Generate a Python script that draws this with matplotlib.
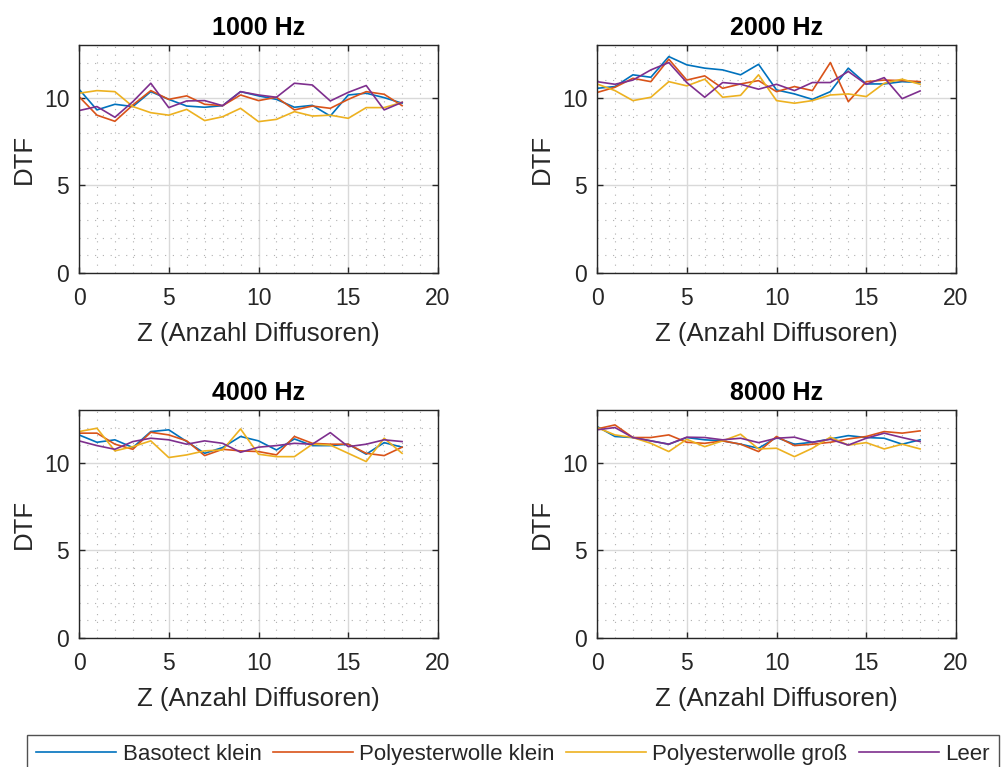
import numpy as np
import matplotlib
matplotlib.use("Agg")
import matplotlib.pyplot as plt
from matplotlib.ticker import MultipleLocator

plt.rcParams.update({
    "font.family": ["Liberation Sans", "DejaVu Sans"],
    "text.color": "#262626",
    "axes.labelcolor": "#262626",
    "xtick.color": "#262626",
    "ytick.color": "#262626",
})

z = np.arange(19)
FREQS = ["1000 Hz", "2000 Hz", "4000 Hz", "8000 Hz"]
SERIES = ["Basotect klein", "Polyesterwolle klein", "Polyesterwolle groß", "Leer"]
COLORS = ["#0072BD", "#D95319", "#EDB120", "#7E2F8E"]

# DTF per number of diffusors, one list per material and frequency band
basotect_1k = [10.48, 9.30, 9.62, 9.49, 10.34, 9.90, 9.52, 9.45, 9.54, 10.34,
               10.10, 9.90, 9.45, 9.56, 8.95, 10.15, 10.25, 10.00, 9.68]
poly_klein_1k = [10.06, 9.00, 8.65, 9.58, 10.40, 9.90, 10.10, 9.62, 9.54, 10.15,
                 9.83, 10.02, 9.30, 9.52, 9.39, 9.90, 10.34, 10.19, 9.54]
poly_gross_1k = [10.25, 10.40, 10.34, 9.49, 9.14, 9.00, 9.33, 8.69, 8.91, 9.39,
                 8.63, 8.76, 9.20, 8.95, 9.00, 8.82, 9.43, 9.43, 9.73]
leer_1k = [9.26, 9.49, 8.88, 9.77, 10.82, 9.43, 9.81, 9.83, 9.54, 10.34,
           10.15, 10.02, 10.82, 10.72, 9.81, 10.30, 10.69, 9.30, 9.73]

basotect_2k = [10.53, 10.63, 11.30, 11.16, 12.34, 11.87, 11.68, 11.58, 11.30, 11.90,
               10.44, 10.21, 9.90, 10.34, 11.68, 10.78, 10.78, 10.91, 10.86]
poly_klein_2k = [10.29, 10.59, 11.10, 10.91, 12.19, 11.00, 11.24, 10.53, 10.78, 10.97,
                 10.34, 10.63, 10.40, 12.00, 9.77, 10.91, 11.00, 10.97, 10.91]
poly_gross_2k = [10.78, 10.40, 9.83, 10.02, 10.91, 10.67, 11.05, 10.02, 10.13, 11.30,
                 9.83, 9.68, 9.83, 10.15, 10.21, 10.06, 10.82, 11.05, 10.76]
leer_2k = [10.91, 10.76, 11.00, 11.58, 12.00, 10.86, 10.02, 10.86, 10.76, 10.48,
           10.76, 10.40, 10.86, 10.86, 11.49, 10.76, 11.14, 9.94, 10.38]

basotect_4k = [11.58, 11.16, 11.30, 10.86, 11.77, 11.87, 11.20, 10.53, 10.86, 11.49,
               11.24, 10.72, 11.35, 10.97, 10.97, 11.05, 10.48, 11.14, 10.88]
poly_klein_4k = [11.68, 11.68, 11.05, 10.76, 11.73, 11.58, 11.24, 10.40, 10.76, 10.67,
                 10.63, 10.44, 11.49, 11.10, 11.05, 11.05, 10.53, 10.40, 10.88]
poly_gross_4k = [11.77, 11.96, 10.67, 10.91, 11.24, 10.29, 10.44, 10.67, 10.72, 11.92,
                 10.48, 10.34, 10.34, 11.05, 11.00, 10.53, 10.06, 11.39, 10.53]
leer_4k = [11.24, 10.97, 10.76, 11.20, 11.39, 11.30, 11.05, 11.24, 11.10, 10.59,
           10.88, 10.97, 11.10, 11.05, 11.71, 10.91, 11.05, 11.30, 11.20]

basotect_8k = [12.06, 11.49, 11.43, 11.24, 11.05, 11.43, 11.30, 11.24, 11.05, 10.82,
               11.43, 11.05, 11.16, 11.35, 11.54, 11.43, 11.39, 11.05, 11.30]
poly_klein_8k = [11.92, 12.15, 11.43, 11.43, 11.58, 11.16, 11.10, 11.24, 11.05, 10.63,
                 11.49, 10.97, 11.05, 11.16, 11.35, 11.49, 11.77, 11.68, 11.81]
poly_gross_8k = [12.00, 11.58, 11.43, 11.10, 10.63, 11.33, 10.91, 11.24, 11.62, 10.78,
                 10.82, 10.34, 10.82, 11.45, 11.00, 11.14, 10.78, 11.05, 10.78]
leer_8k = [11.87, 12.00, 11.43, 11.24, 11.05, 11.45, 11.43, 11.30, 11.39, 11.14,
           11.39, 11.45, 11.16, 11.33, 11.00, 11.39, 11.68, 11.43, 11.20]

DATA = [
    [basotect_1k, poly_klein_1k, poly_gross_1k, leer_1k],
    [basotect_2k, poly_klein_2k, poly_gross_2k, leer_2k],
    [basotect_4k, poly_klein_4k, poly_gross_4k, leer_4k],
    [basotect_8k, poly_klein_8k, poly_gross_8k, leer_8k],
]

fig = plt.figure(figsize=(10.05, 7.67), dpi=100)
W, H = 1005, 767
boxes = [(79, 45), (597, 45), (79, 410), (597, 410)]  # left, top in px
aw, ah = 359, 228

handles = []
for k, (left, top) in enumerate(boxes):
    ax = fig.add_axes([left / W, (H - top - ah) / H, aw / W, ah / H])
    for s in range(4):
        ln, = ax.plot(z, DATA[k][s], color=COLORS[s], lw=1.2, label=SERIES[s])
        if k == 0:
            handles.append(ln)
    ax.set_xlim(0, 20)
    ax.set_ylim(0, 13)
    ax.xaxis.set_major_locator(MultipleLocator(5))
    ax.yaxis.set_major_locator(MultipleLocator(5))
    ax.xaxis.set_minor_locator(MultipleLocator(1))
    ax.yaxis.set_minor_locator(MultipleLocator(1))
    ax.grid(True, which="major", color="#d9d9d9", lw=1.0)
    ax.grid(True, which="minor", color="#b0b0b0", lw=0.8, linestyle=(0, (1, 6)))
    ax.set_axisbelow(True)
    ax.tick_params(which="major", direction="in", length=4, width=1.0,
                   top=True, right=True, labelsize=16.5)
    ax.tick_params(axis="x", pad=10)
    ax.tick_params(axis="y", pad=7)
    ax.tick_params(which="minor", length=0)
    for sp in ax.spines.values():
        sp.set_color("#262626")
        sp.set_linewidth(1.0)
    ax.set_title(FREQS[k], fontsize=18, fontweight="bold", color="black", pad=7)
    ax.set_xlabel("Z (Anzahl Diffusoren)", fontsize=18.5, labelpad=9)
    ax.set_ylabel("DTF", fontsize=18.5, labelpad=6)

leg = fig.legend(handles=handles, loc="upper left", ncol=4,
                 bbox_to_anchor=(27 / W, (H - 735) / H), fontsize=16,
                 frameon=True, fancybox=False, edgecolor="#262626",
                 handlelength=3.6, handletextpad=0.3, columnspacing=0.5,
                 borderpad=0.4, borderaxespad=0)
leg.get_frame().set_linewidth(1.0)

fig.savefig("out.png", dpi=100)
